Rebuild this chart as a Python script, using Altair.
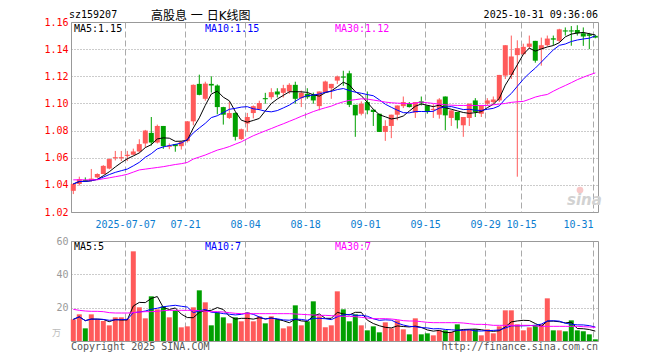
import altair as alt
import pandas as pd

# ---------------- data ----------------
open_ = [
    1.0356, 1.0407, 1.0435, 1.0430, 1.0455, 1.0480, 1.0520, 1.0596, 1.0596, 1.0612,
    1.0622, 1.0646, 1.0705, 1.0783, 1.0712, 1.0834, 1.0680, 1.0700, 1.0685, 1.0722,
    1.0868, 1.1144, 1.1034, 1.1144, 1.1132, 1.0973, 1.0893, 1.0930, 1.0737, 1.0852,
    1.0929, 1.0959, 1.1039, 1.1046, 1.1088, 1.1078, 1.1088, 1.1137, 1.1039, 1.1071,
    1.1066, 1.0980, 1.1083, 1.1112, 1.1168, 1.1198, 1.1222, 1.0990, 1.0924, 1.1010,
    1.0954, 1.0924, 1.0790, 1.0834, 1.0917, 1.0980, 1.1002, 1.0932, 1.1015, 1.0985,
    1.0952, 1.0917, 1.1051, 1.0893, 1.0937, 1.0839, 1.0893, 1.1022, 1.0924, 1.0998,
    1.1010, 1.1022, 1.1205, 1.1210, 1.1356, 1.1363, 1.1417, 1.1461, 1.1400, 1.1429,
    1.1480, 1.1461, 1.1538, 1.1538, 1.1541, 1.1517, 1.1510, 1.1498,
]
close = [
    1.0407, 1.0441, 1.0428, 1.0446, 1.0480, 1.0540, 1.0590, 1.0604, 1.0604, 1.0622,
    1.0646, 1.0700, 1.0800, 1.0712, 1.0834, 1.0685, 1.0688, 1.0685, 1.0717, 1.0868,
    1.1137, 1.1063, 1.1146, 1.1132, 1.0973, 1.0917, 1.0929, 1.0754, 1.0810, 1.0900,
    1.0980, 1.1003, 1.1031, 1.1083, 1.1066, 1.1112, 1.1137, 1.1034, 1.1078, 1.1046,
    1.1022, 1.1088, 1.1161, 1.1144, 1.1198, 1.1190, 1.0990, 1.0912, 1.0998, 1.0949,
    1.0937, 1.0790, 1.0834, 1.0917, 1.0985, 1.1010, 1.0973, 1.1010, 1.1002, 1.0937,
    1.0960, 1.1029, 1.0912, 1.0949, 1.0876, 1.0900, 1.0998, 1.0937, 1.0985, 1.1022,
    1.1029, 1.1210, 1.1429, 1.1346, 1.1407, 1.1417, 1.1441, 1.1315, 1.1429, 1.1478,
    1.1470, 1.1546, 1.1530, 1.1530, 1.1517, 1.1493, 1.1498, 1.1485,
]
high = [
    1.0410, 1.0460, 1.0455, 1.0517, 1.0485, 1.0545, 1.0595, 1.0650, 1.0650, 1.0650,
    1.0667, 1.0736, 1.0805, 1.0900, 1.0844, 1.0834, 1.0705, 1.0702, 1.0722, 1.0870,
    1.1140, 1.1212, 1.1160, 1.1200, 1.1140, 1.0975, 1.1010, 1.0935, 1.0815, 1.0930,
    1.0985, 1.1020, 1.1078, 1.1112, 1.1112, 1.1137, 1.1149, 1.1160, 1.1095, 1.1112,
    1.1080, 1.1088, 1.1168, 1.1144, 1.1205, 1.1241, 1.1241, 1.0990, 1.1015, 1.1088,
    1.0954, 1.0924, 1.0876, 1.0917, 1.0985, 1.1051, 1.1010, 1.1010, 1.1051, 1.0985,
    1.0995, 1.1039, 1.1051, 1.0949, 1.0937, 1.0900, 1.0998, 1.1039, 1.0985, 1.1039,
    1.1051, 1.1210, 1.1429, 1.1500, 1.1465, 1.1440, 1.1500, 1.1461, 1.1485, 1.1500,
    1.1500, 1.1550, 1.1560, 1.1570, 1.1576, 1.1560, 1.1520, 1.1505,
]
low = [
    1.0332, 1.0395, 1.0428, 1.0425, 1.0450, 1.0478, 1.0515, 1.0580, 1.0575, 1.0575,
    1.0620, 1.0637, 1.0676, 1.0690, 1.0705, 1.0665, 1.0663, 1.0644, 1.0660, 1.0712,
    1.0839, 1.1060, 1.1020, 1.1080, 1.0920, 1.0844, 1.0885, 1.0727, 1.0730, 1.0790,
    1.0890, 1.0950, 1.0998, 1.1030, 1.1044, 1.1044, 1.1071, 1.0998, 1.0973, 1.1034,
    1.0998, 1.0949, 1.1078, 1.1034, 1.1144, 1.1130, 1.0973, 1.0754, 1.0912, 1.0920,
    1.0834, 1.0790, 1.0724, 1.0744, 1.0876, 1.0966, 1.0970, 1.0893, 1.0985, 1.0924,
    1.0893, 1.0888, 1.0802, 1.0834, 1.0815, 1.0754, 1.0834, 1.0900, 1.0900, 1.0985,
    1.0998, 1.1010, 1.1180, 1.1180, 1.0460, 1.1356, 1.1400, 1.1300, 1.1278, 1.1420,
    1.1430, 1.1448, 1.1500, 1.1425, 1.1500, 1.1424, 1.1400, 1.1480,
]
volume = [
    13, 16, 7.6, 16, 13, 12, 9.4, 14.2, 14.2, 13.4,
    53.8, 20.2, 13.6, 26.8, 19, 20.8, 14.2, 18.4, 8.2, 8.8,
    20.2, 30.4, 23.2, 9.4, 17.2, 14.2, 10.6, 14.2, 11.8, 17.2,
    11.8, 14.8, 10.6, 14.8, 13, 7.6, 8.8, 21.4, 9.4, 11.8,
    23.8, 14.8, 8.2, 9.4, 29.8, 19, 11.8, 16, 9.4, 6.4,
    8.8, 5.2, 11.2, 7.6, 12.4, 7, 4, 13.6, 4, 4.6,
    3.4, 6.4, 6.4, 5.4, 10, 6.4, 7, 7, 3.4, 7,
    4.6, 8.8, 18.4, 18.4, 10, 6.4, 8.2, 9.4, 10, 25.6,
    6.4, 6.4, 5.8, 12.4, 6.4, 5.8, 4, 1,
]
ma30 = [
    1.0437, 1.0437, 1.0437, 1.0437, 1.0437, 1.0445, 1.0452, 1.0460, 1.0468, 1.0478,
    1.0494, 1.0510, 1.0516, 1.0522, 1.0528, 1.0534, 1.0542, 1.0550, 1.0556, 1.0565,
    1.0590, 1.0605, 1.0620, 1.0638, 1.0656, 1.0668, 1.0682, 1.0700, 1.0717, 1.0740,
    1.0762, 1.0780, 1.0798, 1.0815, 1.0833, 1.0850, 1.0868, 1.0886, 1.0905, 1.0922,
    1.0940, 1.0955, 1.0968, 1.0980, 1.0998, 1.1012, 1.1022, 1.1028, 1.1034, 1.1032,
    1.1025, 1.1018, 1.1010, 1.1005, 1.1002, 1.1000, 1.0998, 1.1002, 1.1010, 1.1005,
    1.1000, 1.0995, 1.0990, 1.0987, 1.0985, 1.0985, 1.0985, 1.0985, 1.0985, 1.0985,
    1.0990, 1.0995, 1.1000, 1.1008, 1.1012, 1.1015, 1.1030, 1.1047, 1.1058, 1.1066,
    1.1090, 1.1112, 1.1132, 1.1153, 1.1175, 1.1193, 1.1210, 1.1225,
]
vol_ma30 = [
    19.0, 18.4, 18.0, 17.8, 17.8, 17.6, 17.0, 16.8, 16.8, 16.8,
    17.0, 17.4, 17.6, 17.6, 17.8, 18.2, 18.4, 18.4, 18.4, 18.4,
    18.4, 18.2, 17.8, 17.6, 17.6, 17.4, 17.0, 16.6, 16.4, 16.4,
    16.4, 16.4, 16.4, 16.4, 16.4, 16.4, 16.4, 16.2, 16.0, 15.8,
    15.6, 15.4, 15.4, 15.2, 15.0, 14.8, 14.8, 14.6, 14.2, 13.8,
    13.4, 13.4, 13.4, 13.2, 12.8, 12.2, 12.0, 12.0, 11.6, 11.2,
    11.0, 11.0, 11.0, 11.0, 11.0, 10.8, 10.4, 10.0, 10.0, 9.8,
    9.4, 9.4, 9.4, 9.4, 9.4, 9.4, 9.4, 9.0, 8.8, 8.8,
    8.8, 8.8, 8.8, 8.8, 8.8, 8.6, 8.4, 8.2,
]
tick_idx = [9, 19, 29, 39, 49, 59, 69, 75, 87]
tick_labels = ["2025-07-07", "07-21", "08-04", "08-18", "09-01",
               "09-15", "09-29", "10-15", "10-31"]
price_ticks = [1.02, 1.04, 1.06, 1.08, 1.10, 1.12, 1.14, 1.16]
vol_ticks = [20, 40, 60]

# ---------------- build table ----------------
n = len(close)
df = pd.DataFrame({
    "i": list(range(n)), "open": open_, "high": high, "low": low,
    "close": close, "vol": volume, "ma30": ma30, "vma30": vol_ma30,
})
df["dir"] = ["up" if c >= o else "down" for o, c in zip(open_, close)]

RED, GREEN = "#ff5a5a", "#00a000"
MONO = "DejaVu Sans Mono"
W, H1, H2 = 527, 190, 100

tick_pos = [t - 0.36 for t in tick_idx]
expr = ""
for p, lab in zip(tick_pos, tick_labels):
    expr += f"abs(datum.value - {p:.3f}) < 0.1 ? '{lab}' : "
expr += "''"

xscale = alt.Scale(domain=[-0.383, 87.45], nice=False, zero=False, padding=0)
x_top = alt.X("i:Q", scale=xscale, title=None,
              axis=alt.Axis(values=tick_pos, labelExpr=expr, grid=True,
                            gridDash=[6, 3], gridColor="#aaaaaa", ticks=False,
                            domain=False, labelColor="#0b7dd0", labelPadding=7,
                            labelFlush=8, labelOverlap=False))
x_bot = alt.X("i:Q", scale=xscale, title=None,
              axis=alt.Axis(values=tick_pos, labels=False, grid=True,
                            gridDash=[6, 3], gridColor="#aaaaaa", ticks=False,
                            domain=False))
yscale = alt.Scale(domain=[1.02, 1.16], nice=False, zero=False)
yaxis = alt.Axis(values=price_ticks, format=".2f", grid=True, gridDash=[1, 2],
                 gridColor="#999999", ticks=False, domain=False,
                 labelColor="#ff0000", labelPadding=3)
vscale = alt.Scale(domain=[0, 60], nice=False)
vaxis = alt.Axis(values=vol_ticks, grid=True, gridDash=[1, 2],
                 gridColor="#999999", ticks=False, domain=False,
                 labelColor="#999999", labelPadding=3)
col = alt.Color("dir:N", scale=alt.Scale(domain=["up", "down"], range=[RED, GREEN]),
                legend=None)

base = alt.Chart(df)
one = alt.Data(values=[{}])


def label(text, x, y, color="black", size=10, align="left", font=MONO, **kw):
    return alt.Chart(one).mark_text(text=text, align=align, baseline="alphabetic",
                                    font=font, fontSize=size, color=color, **kw
                                    ).encode(x=alt.value(x), y=alt.value(y))


wick = base.mark_rule(strokeWidth=1).encode(
    x=x_top, y=alt.Y("low:Q", scale=yscale, axis=yaxis, title=None), y2="high:Q", color=col)
body = base.mark_bar(size=5).encode(
    x=x_top, y=alt.Y("open:Q", scale=yscale, axis=yaxis, title=None), y2="close:Q", color=col)
ma5 = base.transform_window(m="mean(close)", frame=[-4, 0]).mark_line(
    color="black", strokeWidth=1).encode(x=x_top, y=alt.Y("m:Q", scale=yscale, axis=yaxis, title=None))
ma10 = base.transform_window(m="mean(close)", frame=[-9, 0]).mark_line(
    color="#0000ff", strokeWidth=1).encode(x=x_top, y=alt.Y("m:Q", scale=yscale, axis=yaxis, title=None))
m30 = base.mark_line(color="#ff00ff", strokeWidth=1).encode(
    x=x_top, y=alt.Y("ma30:Q", scale=yscale, axis=yaxis, title=None))

eye = alt.Chart(one).mark_point(filled=True, color="#f6c2c2", size=45, opacity=0.9).encode(
    x=alt.value(509), y=alt.value(168))

top = alt.layer(
    wick, body, ma5, ma10, m30,
    label("MA5:1.15", 3, 9.6),
    label("MA10:1.15", 134, 9.6, color="#0000ff"),
    label("MA30:1.12", 264, 9.6, color="#ff00ff"),
    eye,
    label("sina", 496, 183, color="#d2d2d2", size=15, font="DejaVu Sans",
          fontStyle="italic", fontWeight="bold"),
    label("sz159207", -2, -4),
    label("高股息  一  日K线图", 80, -2.5, size=12, font="DejaVu Sans, Noto Sans CJK SC"),
    label("2025-10-31 09:36:06", W, -4, align="right"),
).properties(width=W, height=H1)

vbar = base.mark_bar(size=5).encode(
    x=x_bot, y=alt.Y("vol:Q", scale=vscale, axis=vaxis, title=None), color=col)
vma5 = base.transform_window(m="mean(vol)", frame=[-4, 0]).mark_line(
    color="black", strokeWidth=1).encode(x=x_bot, y=alt.Y("m:Q", scale=vscale, axis=vaxis, title=None))
vma10 = base.transform_window(m="mean(vol)", frame=[-9, 0]).mark_line(
    color="#0000ff", strokeWidth=1).encode(x=x_bot, y=alt.Y("m:Q", scale=vscale, axis=vaxis, title=None))
vm30 = base.mark_line(color="#ff00ff", strokeWidth=1).encode(
    x=x_bot, y=alt.Y("vma30:Q", scale=vscale, axis=vaxis, title=None))

bottom = alt.layer(
    vbar, vma5, vma10, vm30,
    label("MA5:5", 3, 8.6),
    label("MA10:7", 134, 8.6, color="#0000ff"),
    label("MA30:7", 264, 8.6, color="#ff00ff"),
    label("万", -19, 95, color="#bbbbbb", size=9, font="Noto Sans CJK SC"),
    label("Copyright 2025 SINA.COM", 0, 108.5, color="#555555"),
    label("http://finance.sina.com.cn", W, 108.5, color="#555555", align="right"),
).properties(width=W, height=H2)

chart = alt.vconcat(top, bottom, spacing=5).properties(
    padding={"left": 35, "top": 1, "right": 5, "bottom": 0},
    background="white",
).configure_view(stroke="#999999", strokeWidth=1).configure_axis(
    labelFont=MONO, labelFontSize=10
)

chart.save("out.html", embed_options={"renderer": "svg", "actions": False})
